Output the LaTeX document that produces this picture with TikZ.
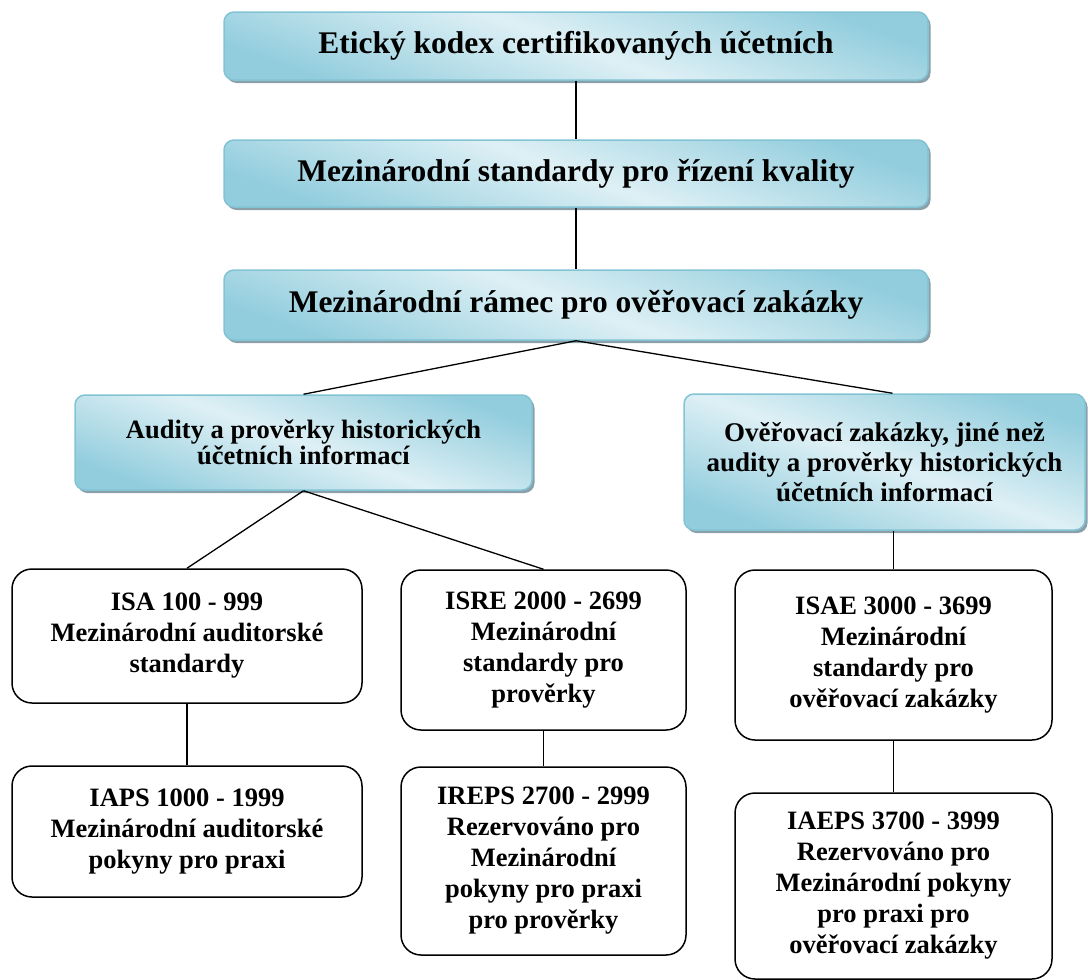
\documentclass[tikz,border=0pt]{standalone}
\usepackage{fontspec}
\setmainfont{Liberation Serif}
\usetikzlibrary{calc}
\definecolor{bdark}{RGB}{146,205,221}
\definecolor{blight}{RGB}{222,240,245}
\definecolor{bborder}{RGB}{130,195,212}
\definecolor{bshadow}{RGB}{140,160,170}
\tikzset{
  bluebox/.style={rectangle, rounded corners=10pt, draw=bborder, line width=1.5pt,
    top color=bdark, bottom color=bdark, middle color=blight, shading angle=-20,
    align=center, inner sep=0pt,
    preaction={fill=bshadow, transform canvas={shift={(2.5pt,-3pt)}}}},
  whitebox/.style={rectangle, rounded corners=20pt, draw=black, line width=1.5pt,
    fill=white, align=center, inner sep=0pt,
    font=\bfseries\fontsize{26.5}{31}\selectfont},
  bigtxt/.style={font=\bfseries\fontsize{31.5}{35}\selectfont},
  conn/.style={draw=black, line width=1.3pt}
}
\begin{document}
\begin{tikzpicture}[x=1pt,y=-1pt]
\useasboundingbox (0,0) rectangle (1088,980);
\node[bluebox, bigtxt, minimum width=704pt, minimum height=68pt] (b1) at (576,46)
  {Etický kodex certifikovaných účetních};
\node[bluebox, bigtxt, minimum width=704pt, minimum height=67pt] (b2) at (576,173.5)
  {Mezinárodní standardy pro řízení kvality};
\node[bluebox, bigtxt, minimum width=704pt, minimum height=70pt] (b3) at (576,305)
  {Mezinárodní rámec pro ověřovací zakázky};
\node[bluebox, font=\bfseries\fontsize{26.5}{26}\selectfont, minimum width=457pt, minimum height=95pt] (au) at (303.5,442.5)
  {Audity a prověrky historických\\účetních informací};
\node[bluebox, font=\bfseries\fontsize{27}{30}\selectfont, minimum width=401pt, minimum height=136pt] (ov) at (884.5,462)
  {Ověřovací zakázky, jiné než\\audity a prověrky historických\\účetních informací};
\node[whitebox, minimum width=350pt, minimum height=134pt] (isa) at (187,636)
  {ISA 100 - 999\\Mezinárodní auditorské\\standardy};
\node[whitebox, minimum width=350pt, minimum height=131pt] (iaps) at (187,831.5)
  {IAPS 1000 - 1999\\Mezinárodní auditorské\\pokyny pro praxi};
\node[whitebox, minimum width=285pt, minimum height=160pt] (isre) at (543.5,650)
  {ISRE 2000 - 2699\\Mezinárodní\\standardy pro\\prověrky};
\node[whitebox, minimum width=285pt, minimum height=188pt] (ireps) at (543.5,861)
  {IREPS 2700 - 2999\\Rezervováno pro\\Mezinárodní\\pokyny pro praxi\\pro prověrky};
\node[whitebox, minimum width=317pt, minimum height=170pt] (isae) at (893.5,655)
  {ISAE 3000 - 3699\\Mezinárodní\\standardy pro\\ověřovací zakázky};
\node[whitebox, minimum width=317pt, minimum height=186pt] (iaeps) at (893.5,886)
  {IAEPS 3700 - 3999\\Rezervováno pro\\Mezinárodní pokyny\\pro praxi pro\\ověřovací zakázky};
\draw[conn] (b1.south) -- (b2.north);
\draw[conn] (b2.south) -- (b3.north);
\draw[conn] (b3.south) -- (au.north);
\draw[conn] (b3.south) -- ($(ov.north)+(8,0)$);
\draw[conn] (au.south) -- (isa.north);
\draw[conn] (au.south) -- (isre.north);
\draw[conn] (isa.south) -- (iaps.north);
\draw[conn] (isre.south) -- (ireps.north);
\draw[conn] (ov.south -| isae.north) -- (isae.north);
\draw[conn] (isae.south) -- (iaeps.north);
\end{tikzpicture}
\end{document}
